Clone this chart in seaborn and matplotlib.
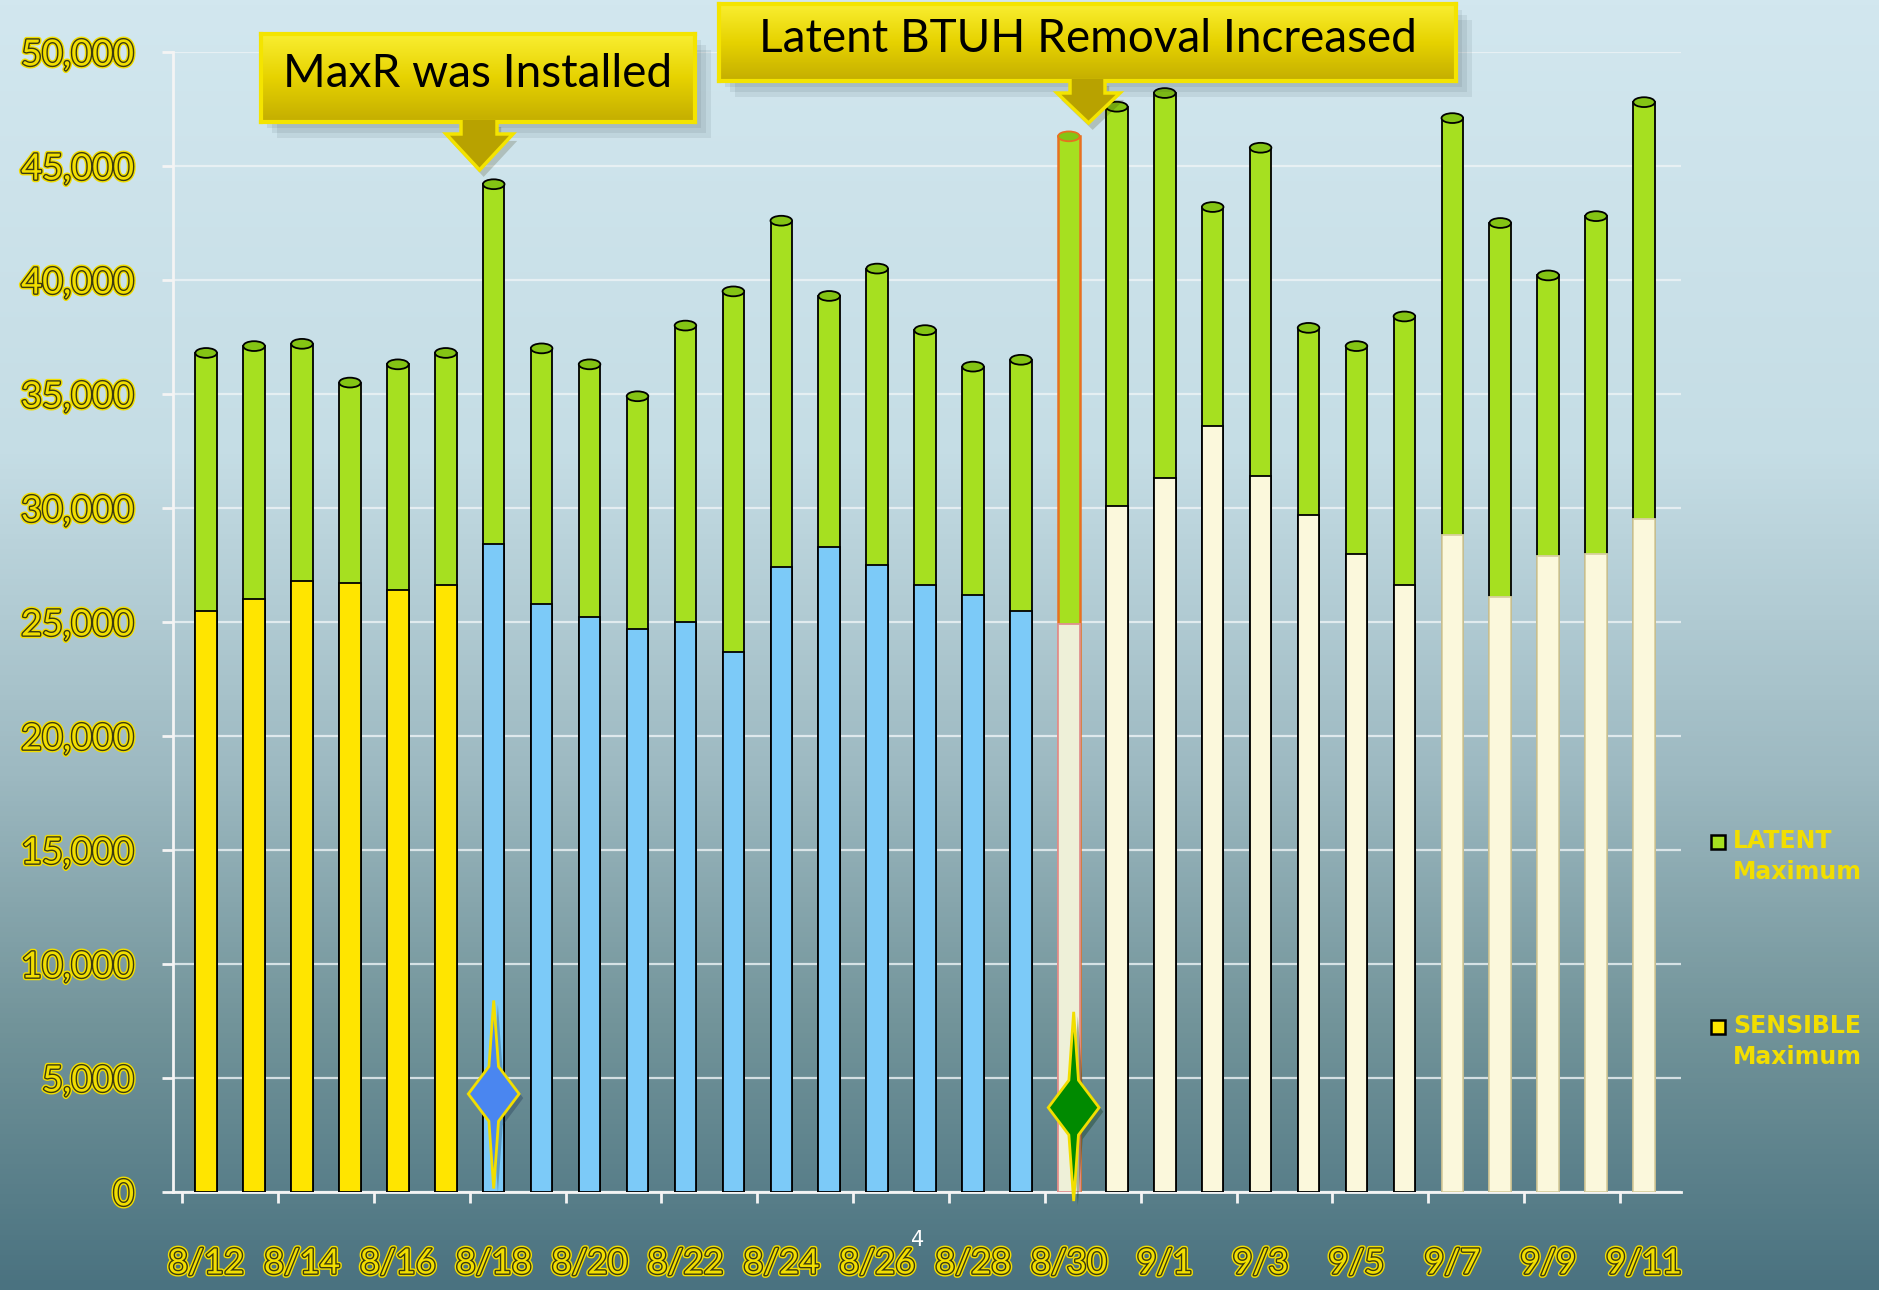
import numpy as np
import pandas as pd
import seaborn as sns
import matplotlib.pyplot as plt
import matplotlib.patheffects as pe
from matplotlib.patches import Ellipse, Polygon, Rectangle
from matplotlib.colors import LinearSegmentedColormap

# data (BTUH)
dates = ["8/12", "8/13", "8/14", "8/15", "8/16", "8/17", "8/18", "8/19", "8/20", "8/21",
         "8/22", "8/23", "8/24", "8/25", "8/26", "8/27", "8/28", "8/29", "8/30", "8/31",
         "9/1", "9/2", "9/3", "9/4", "9/5", "9/6", "9/7", "9/8", "9/9", "9/10", "9/11"]
sensible = [25500, 26000, 26800, 26700, 26400, 26600, 28400, 25800, 25200, 24700,
            25000, 23700, 27400, 28300, 27500, 26600, 26200, 25500, 24900, 30100,
            31300, 33600, 31400, 29700, 28000, 26600, 28800, 26100, 27900, 28000, 29500]
total = [36800, 37100, 37200, 35500, 36300, 36800, 44200, 37000, 36300, 34900,
         38000, 39500, 42600, 39300, 40500, 37800, 36200, 36500, 46300, 47600,
         48200, 43200, 45800, 37900, 37100, 38400, 47100, 42500, 40200, 42800, 47800]
phase = ["before"] * 6 + ["maxr"] * 12 + ["increased"] * 13
yticks = list(range(0, 50001, 5000))

df = pd.DataFrame({"date": dates, "sensible": sensible, "total": total, "phase": phase})
df["latent"] = df["total"] - df["sensible"]

GREEN = "#a6e020"
YEL = "#f2de00"
FONT = ["Lato", "DejaVu Sans"]
sens_pal = {"before": "#ffe500", "maxr": "#7ccaf8", "increased": "#fbf8dc"}

fig = plt.figure(figsize=(18.79, 12.90), dpi=100)

# background gradient
bg = fig.add_axes([0, 0, 1, 1], zorder=-10)
cmap = LinearSegmentedColormap.from_list("bg", [(0, "#d2e7ef"), (0.35, "#c5dde5"),
                                                (0.6, "#9db9c1"), (0.8, "#719399"),
                                                (1, "#4a7280")])
bg.imshow(np.linspace(0, 1, 256).reshape(-1, 1), aspect="auto", cmap=cmap,
          extent=[0, 1, 1, 0])
bg.axis("off")

ax = fig.add_axes([0.0921, 0.0760, 0.8025, 0.8837])
ax.set_facecolor("none")

W = 0.45
sns.barplot(data=df, x="date", y="total", color=GREEN, width=W, saturation=1,
            edgecolor="black", linewidth=1.3, ax=ax, zorder=3)
n_tot = len(ax.patches)
sns.barplot(data=df, x="date", y="sensible", hue="phase", palette=sens_pal, dodge=False,
            width=W, saturation=1, edgecolor="black", linewidth=1.3, legend=False,
            ax=ax, zorder=4)

for k, p in enumerate(ax.patches):
    i = int(round(p.get_x() + p.get_width() / 2))
    if k < n_tot:
        if i == 18:
            p.set_edgecolor("#e87020")
            p.set_linewidth(1.8)
    else:
        if i == 18:
            p.set_facecolor("#eef0d8")
            p.set_edgecolor("#e09090")
        elif i >= 26:
            p.set_edgecolor("#d8d0a0")

# cylinder tops
for i, t in enumerate(df["total"]):
    ax.add_patch(Ellipse((i, t), W, 430, facecolor="#84c414",
                         edgecolor="#e87020" if i == 18 else "black", lw=1.3, zorder=5))

ax.set_xlim(-0.69, 30.77)
ax.set_ylim(0, 50000)
ax.set_yticks(yticks)
ax.set_yticklabels([f"{v:,}" for v in yticks])
ax.set_xticks(range(0, 31, 2))
ax.set_xticklabels(dates[::2])
ax.set_xticks(np.arange(-0.5, 31, 2), minor=True)
ax.set_xlabel("")
ax.set_ylabel("")
ax.grid(axis="y", color="#eef4f6", lw=1.6, alpha=0.8, zorder=0)
ax.set_axisbelow(True)
for s in ["top", "right"]:
    ax.spines[s].set_visible(False)
for s in ["left", "bottom"]:
    ax.spines[s].set_color("#f4f4f4")
    ax.spines[s].set_linewidth(2)
ax.tick_params(axis="y", colors="#f4f4f4", length=8, width=2, pad=20)
ax.tick_params(axis="x", which="major", length=0, pad=40)
ax.tick_params(axis="x", which="minor", colors="#f4f4f4", length=8, width=2)

outline = [pe.Stroke(linewidth=4, foreground=YEL), pe.Stroke(linewidth=2, foreground="#3b3a10"),
           pe.Normal()]
for lab in ax.get_yticklabels():
    lab.set_fontfamily(FONT)
    lab.set_fontsize(26)
    lab.set_color(YEL)
    lab.set_path_effects(outline)
for lab in ax.get_xticklabels():
    lab.set_fontfamily(FONT)
    lab.set_fontsize(25)
    lab.set_color(YEL)
    lab.set_path_effects(outline)

# star markers
def star(cx, cy, top, bottom, face):
    pts = [(cx, top), (cx + 0.1, cy + 1200), (cx + 0.53, cy), (cx + 0.1, cy - 1200),
           (cx, bottom), (cx - 0.1, cy - 1200), (cx - 0.53, cy), (cx - 0.1, cy + 1200)]
    ax.add_patch(Polygon(pts, closed=True, facecolor=face, edgecolor=YEL, lw=2, zorder=8,
                         clip_on=False,
                         path_effects=[pe.SimplePatchShadow(offset=(3, -3), alpha=0.3),
                                       pe.Normal()]))

star(6, 4300, 8400, 150, "#4a86f0")
star(18.1, 3700, 7900, -400, "#008a00")

# callout boxes
H = 1290.0
Wf = 1879.0

def callout(x0, y0, x1, y1, text, stem, head, tip_y, stem_y):
    # soft shadow behind the box
    for k, a in enumerate([0.08, 0.08, 0.08]):
        d = 6 + 5 * k
        fig.add_artist(Rectangle(((x0 + d) / Wf, 1 - (y1 + d) / H), (x1 - x0) / Wf,
                                 (y1 - y0) / H, facecolor="#1a2a30", alpha=a,
                                 edgecolor="none", transform=fig.transFigure, zorder=9))
    bax = fig.add_axes([x0 / Wf, 1 - y1 / H, (x1 - x0) / Wf, (y1 - y0) / H], zorder=10)
    ycm = LinearSegmentedColormap.from_list("y", ["#f9ee30", "#e6d200", "#c4ae00"])
    bax.imshow(np.linspace(0, 1, 64).reshape(-1, 1), aspect="auto", cmap=ycm,
               extent=[0, 1, 1, 0])
    bax.set_xticks([])
    bax.set_yticks([])
    for s in bax.spines.values():
        s.set_color("#f4e400")
        s.set_linewidth(3)
    bax.text(0.5, 0.54, text, ha="center", va="center", fontsize=33, color="black",
             family=FONT, transform=bax.transAxes)
    sx0, sx1 = stem
    hx0, hx1 = head
    cx = (hx0 + hx1) / 2
    pts = [(sx0, y1 - 2), (sx0, stem_y), (hx0, stem_y), (cx, tip_y), (hx1, stem_y),
           (sx1, stem_y), (sx1, y1 - 2)]
    pts = [(px / Wf, 1 - py / H) for px, py in pts]
    fig.add_artist(Polygon(pts, closed=False, facecolor="#b8a200", edgecolor="#f4e400",
                           lw=2.5, zorder=11, transform=fig.transFigure,
                           path_effects=[pe.SimplePatchShadow(offset=(3, -5), alpha=0.2),
                                         pe.Normal()]))

callout(261, 34, 695, 122, "MaxR was Installed", (461, 497), (446, 513), 170, 134)
callout(719, 4, 1456, 81, "Latent BTUH Removal Increased", (1070, 1105), (1057, 1120), 123, 93)

# legend
leg_items = [("LATENT\nMaximum", GREEN, 835), ("SENSIBLE\nMaximum", "#ffe500", 1020)]
for lab, col, ytop in leg_items:
    fig.add_artist(Rectangle((1711 / Wf, 1 - (ytop + 14) / H), 14 / Wf, 14 / H,
                             facecolor=col, edgecolor="black", lw=1.8,
                             transform=fig.transFigure))
    fig.text(1733 / Wf, 1 - (ytop - 6) / H, lab, ha="left", va="top", fontsize=17,
             fontweight="bold", color=YEL, family="DejaVu Sans", linespacing=1.35)

# page number
fig.text(918 / Wf, 1 - 1240 / H, "4", ha="center", va="center", fontsize=15, color="white")

plt.savefig("out.png", dpi=100)
